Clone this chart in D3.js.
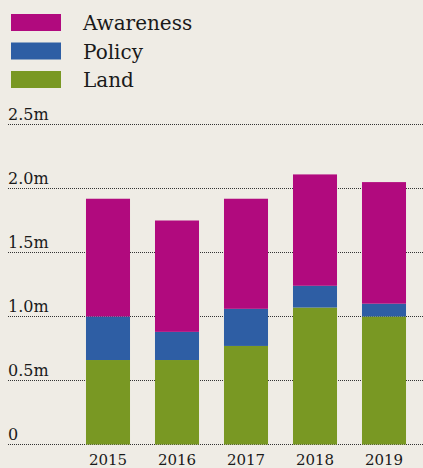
<!DOCTYPE html>
<html>
<head>
<meta charset="utf-8">
<script src="https://cdn.jsdelivr.net/npm/d3@7"></script>
<style>
  html, body { margin: 0; padding: 0; background: #efece5; }
  svg { display: block; font-family: "DejaVu Serif", serif; }
</style>
</head>
<body>
<div id="chart"></div>
<script>
// data (millions)
const years = ["2015", "2016", "2017", "2018", "2019"]
const land = [0.66, 0.66, 0.77, 1.07, 1.0]
const policy = [0.34, 0.22, 0.29, 0.17, 0.10]
const awareness = [0.92, 0.87, 0.86, 0.87, 0.95]
const yTicks = [0, 0.5, 1.0, 1.5, 2.0, 2.5]
const yTickLabels = ["0", "0.5m", "1.0m", "1.5m", "2.0m", "2.5m"]
const seriesNames = ["Land", "Policy", "Awareness"]
const legendOrder = ["Awareness", "Policy", "Land"]

const colors = { Land: "#799823", Policy: "#2e5ea4", Awareness: "#b10a7e" }

const width = 423
const height = 468

const svg = d3.select("#chart").append("svg")
    .attr("width", width)
    .attr("height", height)

const table = years.map((y, i) => ({ year: y, Land: land[i], Policy: policy[i], Awareness: awareness[i] }))
const stacked = d3.stack().keys(seriesNames)(table)

// scales
const xScale = d3.scaleBand()
    .domain(years)
    .range([73.5, 418.5])
    .paddingInner(0.362)
    .paddingOuter(0.181)

const yScale = d3.scaleLinear()
    .domain([0, 2.5])
    .range([444.5, 124.5])

// gridlines + labels
const grid = svg.append("g").attr("class", "grid")
grid.selectAll("line")
    .data(yTicks)
    .join("line")
        .attr("x1", 8)
        .attr("x2", width)
        .attr("y1", d => yScale(d))
        .attr("y2", d => yScale(d))
        .attr("stroke", "#333")
        .attr("stroke-width", 1)
        .attr("stroke-dasharray", "1,1")

grid.selectAll("text")
    .data(yTicks)
    .join("text")
        .attr("x", 8)
        .attr("y", d => yScale(d) - 5)
        .attr("font-size", 16)
        .attr("fill", "#1a1a1a")
        .text((d, i) => yTickLabels[i])

// bars
svg.append("g").selectAll("g")
    .data(stacked)
    .join("g")
        .attr("fill", d => colors[d.key])
    .selectAll("rect")
    .data(d => d)
    .join("rect")
        .attr("x", d => xScale(d.data.year))
        .attr("width", xScale.bandwidth())
        .attr("y", d => yScale(d[1]))
        .attr("height", d => yScale(d[0]) - yScale(d[1]))

// x labels
svg.append("g").selectAll("text")
    .data(years)
    .join("text")
        .attr("x", d => xScale(d) + xScale.bandwidth() / 2)
        .attr("y", 465)
        .attr("text-anchor", "middle")
        .attr("font-size", 15)
        .attr("fill", "#1a1a1a")
        .text(d => d)

// legend
const legend = svg.append("g").selectAll("g")
    .data(legendOrder)
    .join("g")
        .attr("transform", (d, i) => `translate(11, ${14 + i * 28.5})`)

legend.append("rect")
    .attr("width", 50)
    .attr("height", 17)
    .attr("fill", d => colors[d])

legend.append("text")
    .attr("x", 72)
    .attr("y", 16)
    .attr("font-size", 20)
    .attr("fill", "#1a1a1a")
    .text(d => d)
</script>
</body>
</html>
